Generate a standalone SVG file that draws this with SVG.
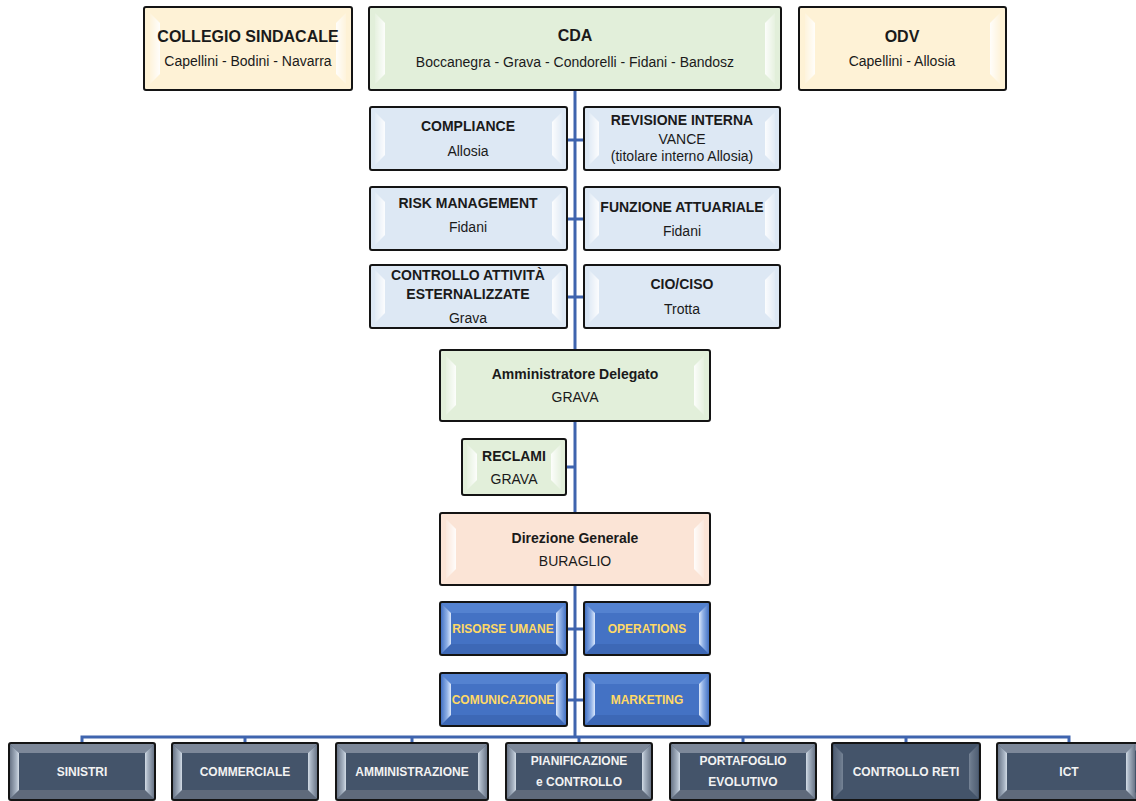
<svg xmlns="http://www.w3.org/2000/svg" width="1136" height="801" viewBox="0 0 1136 801">
<defs>
<linearGradient id="hlL" x1="0" y1="0" x2="1" y2="0"><stop offset="0" stop-color="#fff" stop-opacity="0.15"/><stop offset="1" stop-color="#fff" stop-opacity="0.9"/></linearGradient>
<linearGradient id="hlR" x1="0" y1="0" x2="1" y2="0"><stop offset="0" stop-color="#fff" stop-opacity="0.9"/><stop offset="1" stop-color="#fff" stop-opacity="0.15"/></linearGradient>
<linearGradient id="bL" x1="0" y1="0" x2="1" y2="0"><stop offset="0" stop-color="#4472c4"/><stop offset="0.6" stop-color="#8fb0e6"/><stop offset="1" stop-color="#dce8fb"/></linearGradient>
<linearGradient id="bR" x1="0" y1="0" x2="1" y2="0"><stop offset="0" stop-color="#dce8fb"/><stop offset="0.4" stop-color="#8fb0e6"/><stop offset="1" stop-color="#4472c4"/></linearGradient>
<linearGradient id="dL" x1="0" y1="0" x2="1" y2="0"><stop offset="0" stop-color="#6a7688"/><stop offset="0.7" stop-color="#a9b5c4"/><stop offset="1" stop-color="#d3dce6"/></linearGradient>
<linearGradient id="dR" x1="0" y1="0" x2="1" y2="0"><stop offset="0" stop-color="#d3dce6"/><stop offset="0.3" stop-color="#a9b5c4"/><stop offset="1" stop-color="#6a7688"/></linearGradient>
<style>
.frame{fill:none;stroke:#141414;stroke-width:2}
.yel{fill:#fef2d6}.grn{fill:#e2efda}.lbl{fill:#dde8f4}.sal{fill:#fbe4d6}.blu{fill:#4472c4}.drk{fill:#44546a}
.hlL{fill:url(#hlL)}.hlR{fill:url(#hlR)}
.bL{fill:url(#bL)}.bR{fill:url(#bR)}.bT{fill:#5482d0}.bB{fill:#3d68b6}
.dL{fill:url(#dL)}.dR{fill:url(#dR)}.dT{fill:#7d8899}.dB{fill:#5f6a7b}
.conn{stroke:#3f64ae;stroke-width:3;fill:none}
text{font-family:"Liberation Sans",Arial,sans-serif;text-anchor:middle;fill:#1a1a1a}
.b{font-weight:bold}
.s16{font-size:16px}.s14{font-size:14px}.s12{font-size:12px}
.ty{fill:#ffd966;font-weight:bold;font-size:12px}
.tw{fill:#f2f2f2;font-weight:bold;font-size:12px}
</style>
</defs>

<g id="connectors">
<line class="conn" x1="575" y1="90" x2="575" y2="737"/>
<line class="conn" x1="567" y1="140" x2="584" y2="140"/>
<line class="conn" x1="567" y1="219" x2="584" y2="219"/>
<line class="conn" x1="567" y1="297" x2="584" y2="297"/>
<line class="conn" x1="566" y1="467" x2="575" y2="467"/>
<line class="conn" x1="567" y1="629" x2="584" y2="629"/>
<line class="conn" x1="567" y1="700" x2="584" y2="700"/>
<polyline class="conn" points="82,744 82,737 1069,737 1069,744"/>
<line class="conn" x1="245" y1="737" x2="245" y2="744"/>
<line class="conn" x1="412" y1="737" x2="412" y2="744"/>
<line class="conn" x1="579" y1="737" x2="579" y2="744"/>
<line class="conn" x1="743" y1="737" x2="743" y2="744"/>
<line class="conn" x1="906" y1="737" x2="906" y2="744"/>
</g>

<g id="collegio-sindacale">
<rect class="yel" x="144" y="7" width="208" height="83"/>
<polygon class="hlL" points="150,13 160,23 160,74 150,84"/>
<polygon class="hlR" points="336,23 346,13 346,84 336,74"/>
<rect class="frame" x="144" y="7" width="208" height="83" rx="2"/>
<text class="b s16" x="248" y="42">COLLEGIO SINDACALE</text>
<text class="s14" x="248" y="66">Capellini - Bodini - Navarra</text>
</g>

<g id="cda">
<rect class="grn" x="369" y="7" width="412" height="83"/>
<polygon class="hlL" points="375,13 385,23 385,74 375,84"/>
<polygon class="hlR" points="765,23 775,13 775,84 765,74"/>
<rect class="frame" x="369" y="7" width="412" height="83" rx="2"/>
<text class="b s16" x="575" y="41">CDA</text>
<text class="s14" x="575" y="67">Boccanegra - Grava - Condorelli - Fidani - Bandosz</text>
</g>

<g id="odv">
<rect class="yel" x="799" y="7" width="207" height="83"/>
<polygon class="hlL" points="805,13 815,23 815,74 805,84"/>
<polygon class="hlR" points="990,23 1000,13 1000,84 990,74"/>
<rect class="frame" x="799" y="7" width="207" height="83" rx="2"/>
<text class="b s16" x="902" y="42">ODV</text>
<text class="s14" x="902" y="66">Capellini - Allosia</text>
</g>

<g id="compliance">
<rect class="lbl" x="370" y="107" width="197" height="63"/>
<polygon class="hlL" points="375,112 385,122 385,155 375,165"/>
<polygon class="hlR" points="552,122 562,112 562,165 552,155"/>
<rect class="frame" x="370" y="107" width="197" height="63" rx="2"/>
<text class="b s14" x="468" y="131">COMPLIANCE</text>
<text class="s14" x="468" y="156">Allosia</text>
</g>

<g id="revisione-interna">
<rect class="lbl" x="584" y="107" width="196" height="63"/>
<polygon class="hlL" points="589,112 599,122 599,155 589,165"/>
<polygon class="hlR" points="765,122 775,112 775,165 765,155"/>
<rect class="frame" x="584" y="107" width="196" height="63" rx="2"/>
<text class="b s14" x="682" y="125">REVISIONE INTERNA</text>
<text class="s14" x="682" y="144">VANCE</text>
<text class="s14" x="682" y="161">(titolare interno Allosia)</text>
</g>

<g id="risk-management">
<rect class="lbl" x="370" y="187" width="197" height="63"/>
<polygon class="hlL" points="375,192 385,202 385,235 375,245"/>
<polygon class="hlR" points="552,202 562,192 562,245 552,235"/>
<rect class="frame" x="370" y="187" width="197" height="63" rx="2"/>
<text class="b s14" x="468" y="208">RISK MANAGEMENT</text>
<text class="s14" x="468" y="232">Fidani</text>
</g>

<g id="funzione-attuariale">
<rect class="lbl" x="584" y="187" width="196" height="63"/>
<polygon class="hlL" points="589,192 599,202 599,235 589,245"/>
<polygon class="hlR" points="765,202 775,192 775,245 765,235"/>
<rect class="frame" x="584" y="187" width="196" height="63" rx="2"/>
<text class="b s14" x="682" y="212">FUNZIONE ATTUARIALE</text>
<text class="s14" x="682" y="236">Fidani</text>
</g>

<g id="controllo-attivita-esternalizzate">
<rect class="lbl" x="370" y="265" width="197" height="63"/>
<polygon class="hlL" points="375,270 385,280 385,313 375,323"/>
<polygon class="hlR" points="552,280 562,270 562,323 552,313"/>
<rect class="frame" x="370" y="265" width="197" height="63" rx="2"/>
<text class="b s14" x="468" y="280">CONTROLLO ATTIVITÀ</text>
<text class="b s14" x="468" y="299">ESTERNALIZZATE</text>
<text class="s14" x="468" y="323">Grava</text>
</g>

<g id="cio-ciso">
<rect class="lbl" x="584" y="265" width="196" height="63"/>
<polygon class="hlL" points="589,270 599,280 599,313 589,323"/>
<polygon class="hlR" points="765,280 775,270 775,323 765,313"/>
<rect class="frame" x="584" y="265" width="196" height="63" rx="2"/>
<text class="b s14" x="682" y="289">CIO/CISO</text>
<text class="s14" x="682" y="314">Trotta</text>
</g>

<g id="amministratore-delegato">
<rect class="grn" x="440" y="350" width="270" height="71"/>
<polygon class="hlL" points="446,356 456,366 456,405 446,415"/>
<polygon class="hlR" points="694,366 704,356 704,415 694,405"/>
<rect class="frame" x="440" y="350" width="270" height="71" rx="2"/>
<text class="b s14" x="575" y="379">Amministratore Delegato</text>
<text class="s14" x="575" y="402">GRAVA</text>
</g>

<g id="reclami">
<rect class="grn" x="462" y="439" width="104" height="56"/>
<polygon class="hlL" points="467,444 477,454 477,480 467,490"/>
<polygon class="hlR" points="551,454 561,444 561,490 551,480"/>
<rect class="frame" x="462" y="439" width="104" height="56" rx="2"/>
<text class="b s14" x="514" y="461">RECLAMI</text>
<text class="s14" x="514" y="484">GRAVA</text>
</g>

<g id="direzione-generale">
<rect class="sal" x="440" y="513" width="270" height="72"/>
<polygon class="hlL" points="446,519 456,529 456,569 446,579"/>
<polygon class="hlR" points="694,529 704,519 704,579 694,569"/>
<rect class="frame" x="440" y="513" width="270" height="72" rx="2"/>
<text class="b s14" x="575" y="543">Direzione Generale</text>
<text class="s14" x="575" y="566">BURAGLIO</text>
</g>

<g id="risorse-umane">
<rect class="blu" x="440" y="602" width="127" height="53"/>
<polygon class="bT" points="441,603 566,603 556,613 451,613"/>
<polygon class="bB" points="441,654 566,654 556,644 451,644"/>
<polygon class="bL" points="441,603 451,613 451,644 441,654"/>
<polygon class="bR" points="556,613 566,603 566,654 556,644"/>
<rect class="blu" x="451" y="613" width="105" height="31"/>
<rect class="frame" x="440" y="602" width="127" height="53" rx="2"/>
<text class="ty" x="503" y="633">RISORSE UMANE</text>
</g>

<g id="operations">
<rect class="blu" x="584" y="602" width="126" height="53"/>
<polygon class="bT" points="585,603 709,603 699,613 595,613"/>
<polygon class="bB" points="585,654 709,654 699,644 595,644"/>
<polygon class="bL" points="585,603 595,613 595,644 585,654"/>
<polygon class="bR" points="699,613 709,603 709,654 699,644"/>
<rect class="blu" x="595" y="613" width="104" height="31"/>
<rect class="frame" x="584" y="602" width="126" height="53" rx="2"/>
<text class="ty" x="647" y="633">OPERATIONS</text>
</g>

<g id="comunicazione">
<rect class="blu" x="440" y="673" width="127" height="53"/>
<polygon class="bT" points="441,674 566,674 556,684 451,684"/>
<polygon class="bB" points="441,725 566,725 556,715 451,715"/>
<polygon class="bL" points="441,674 451,684 451,715 441,725"/>
<polygon class="bR" points="556,684 566,674 566,725 556,715"/>
<rect class="blu" x="451" y="684" width="105" height="31"/>
<rect class="frame" x="440" y="673" width="127" height="53" rx="2"/>
<text class="ty" x="503" y="704">COMUNICAZIONE</text>
</g>

<g id="marketing">
<rect class="blu" x="584" y="673" width="126" height="53"/>
<polygon class="bT" points="585,674 709,674 699,684 595,684"/>
<polygon class="bB" points="585,725 709,725 699,715 595,715"/>
<polygon class="bL" points="585,674 595,684 595,715 585,725"/>
<polygon class="bR" points="699,684 709,674 709,725 699,715"/>
<rect class="blu" x="595" y="684" width="104" height="31"/>
<rect class="frame" x="584" y="673" width="126" height="53" rx="2"/>
<text class="ty" x="647" y="704">MARKETING</text>
</g>

<g id="sinistri">
<rect class="drk" x="9" y="743" width="146" height="57"/>
<polygon class="dT" points="10,744 154,744 145,753 19,753"/>
<polygon class="dB" points="10,799 154,799 145,790 19,790"/>
<polygon class="dL" points="10,744 19,753 19,790 10,799"/>
<polygon class="dR" points="145,753 154,744 154,799 145,790"/>
<rect class="drk" x="19" y="753" width="126" height="37"/>
<rect class="frame" x="9" y="743" width="146" height="57" rx="2"/>
<text class="tw" x="82" y="776">SINISTRI</text>
</g>

<g id="commerciale">
<rect class="drk" x="172" y="743" width="146" height="57"/>
<polygon class="dT" points="173,744 317,744 308,753 182,753"/>
<polygon class="dB" points="173,799 317,799 308,790 182,790"/>
<polygon class="dL" points="173,744 182,753 182,790 173,799"/>
<polygon class="dR" points="308,753 317,744 317,799 308,790"/>
<rect class="drk" x="182" y="753" width="126" height="37"/>
<rect class="frame" x="172" y="743" width="146" height="57" rx="2"/>
<text class="tw" x="245" y="776">COMMERCIALE</text>
</g>

<g id="amministrazione">
<rect class="drk" x="336" y="743" width="152" height="57"/>
<polygon class="dT" points="337,744 487,744 478,753 346,753"/>
<polygon class="dB" points="337,799 487,799 478,790 346,790"/>
<polygon class="dL" points="337,744 346,753 346,790 337,799"/>
<polygon class="dR" points="478,753 487,744 487,799 478,790"/>
<rect class="drk" x="346" y="753" width="132" height="37"/>
<rect class="frame" x="336" y="743" width="152" height="57" rx="2"/>
<text class="tw" x="412" y="776">AMMINISTRAZIONE</text>
</g>

<g id="pianificazione-e-controllo">
<rect class="drk" x="506" y="743" width="146" height="57"/>
<polygon class="dT" points="507,744 651,744 642,753 516,753"/>
<polygon class="dB" points="507,799 651,799 642,790 516,790"/>
<polygon class="dL" points="507,744 516,753 516,790 507,799"/>
<polygon class="dR" points="642,753 651,744 651,799 642,790"/>
<rect class="drk" x="516" y="753" width="126" height="37"/>
<rect class="frame" x="506" y="743" width="146" height="57" rx="2"/>
<text class="tw" x="579" y="765">PIANIFICAZIONE</text>
<text class="tw" x="579" y="786">e CONTROLLO</text>
</g>

<g id="portafoglio-evolutivo">
<rect class="drk" x="670" y="743" width="146" height="57"/>
<polygon class="dT" points="671,744 815,744 806,753 680,753"/>
<polygon class="dB" points="671,799 815,799 806,790 680,790"/>
<polygon class="dL" points="671,744 680,753 680,790 671,799"/>
<polygon class="dR" points="806,753 815,744 815,799 806,790"/>
<rect class="drk" x="680" y="753" width="126" height="37"/>
<rect class="frame" x="670" y="743" width="146" height="57" rx="2"/>
<text class="tw" x="743" y="765">PORTAFOGLIO</text>
<text class="tw" x="743" y="786">EVOLUTIVO</text>
</g>

<g id="controllo-reti">
<rect class="drk" x="832" y="743" width="148" height="57"/>
<polygon class="dL" opacity="0.35" points="834,745 843,754 843,789 834,798"/>
<polygon class="dR" opacity="0.35" points="969,754 978,745 978,798 969,789"/>
<rect class="drk" x="843" y="745" width="126" height="53"/>
<rect class="frame" x="832" y="743" width="148" height="57" rx="2"/>
<text class="tw" x="906" y="776">CONTROLLO RETI</text>
</g>

<g id="ict">
<rect class="drk" x="997" y="743" width="146" height="57"/>
<polygon class="dT" points="998,744 1142,744 1133,753 1007,753"/>
<polygon class="dB" points="998,799 1142,799 1133,790 1007,790"/>
<polygon class="dL" points="998,744 1007,753 1007,790 998,799"/>
<polygon class="dR" points="1126,753 1135,744 1135,799 1126,790"/>
<rect class="drk" x="1007" y="753" width="119" height="37"/>
<rect class="frame" x="997" y="743" width="146" height="57" rx="2"/>
<text class="tw" x="1069" y="776">ICT</text>
</g>
</svg>
